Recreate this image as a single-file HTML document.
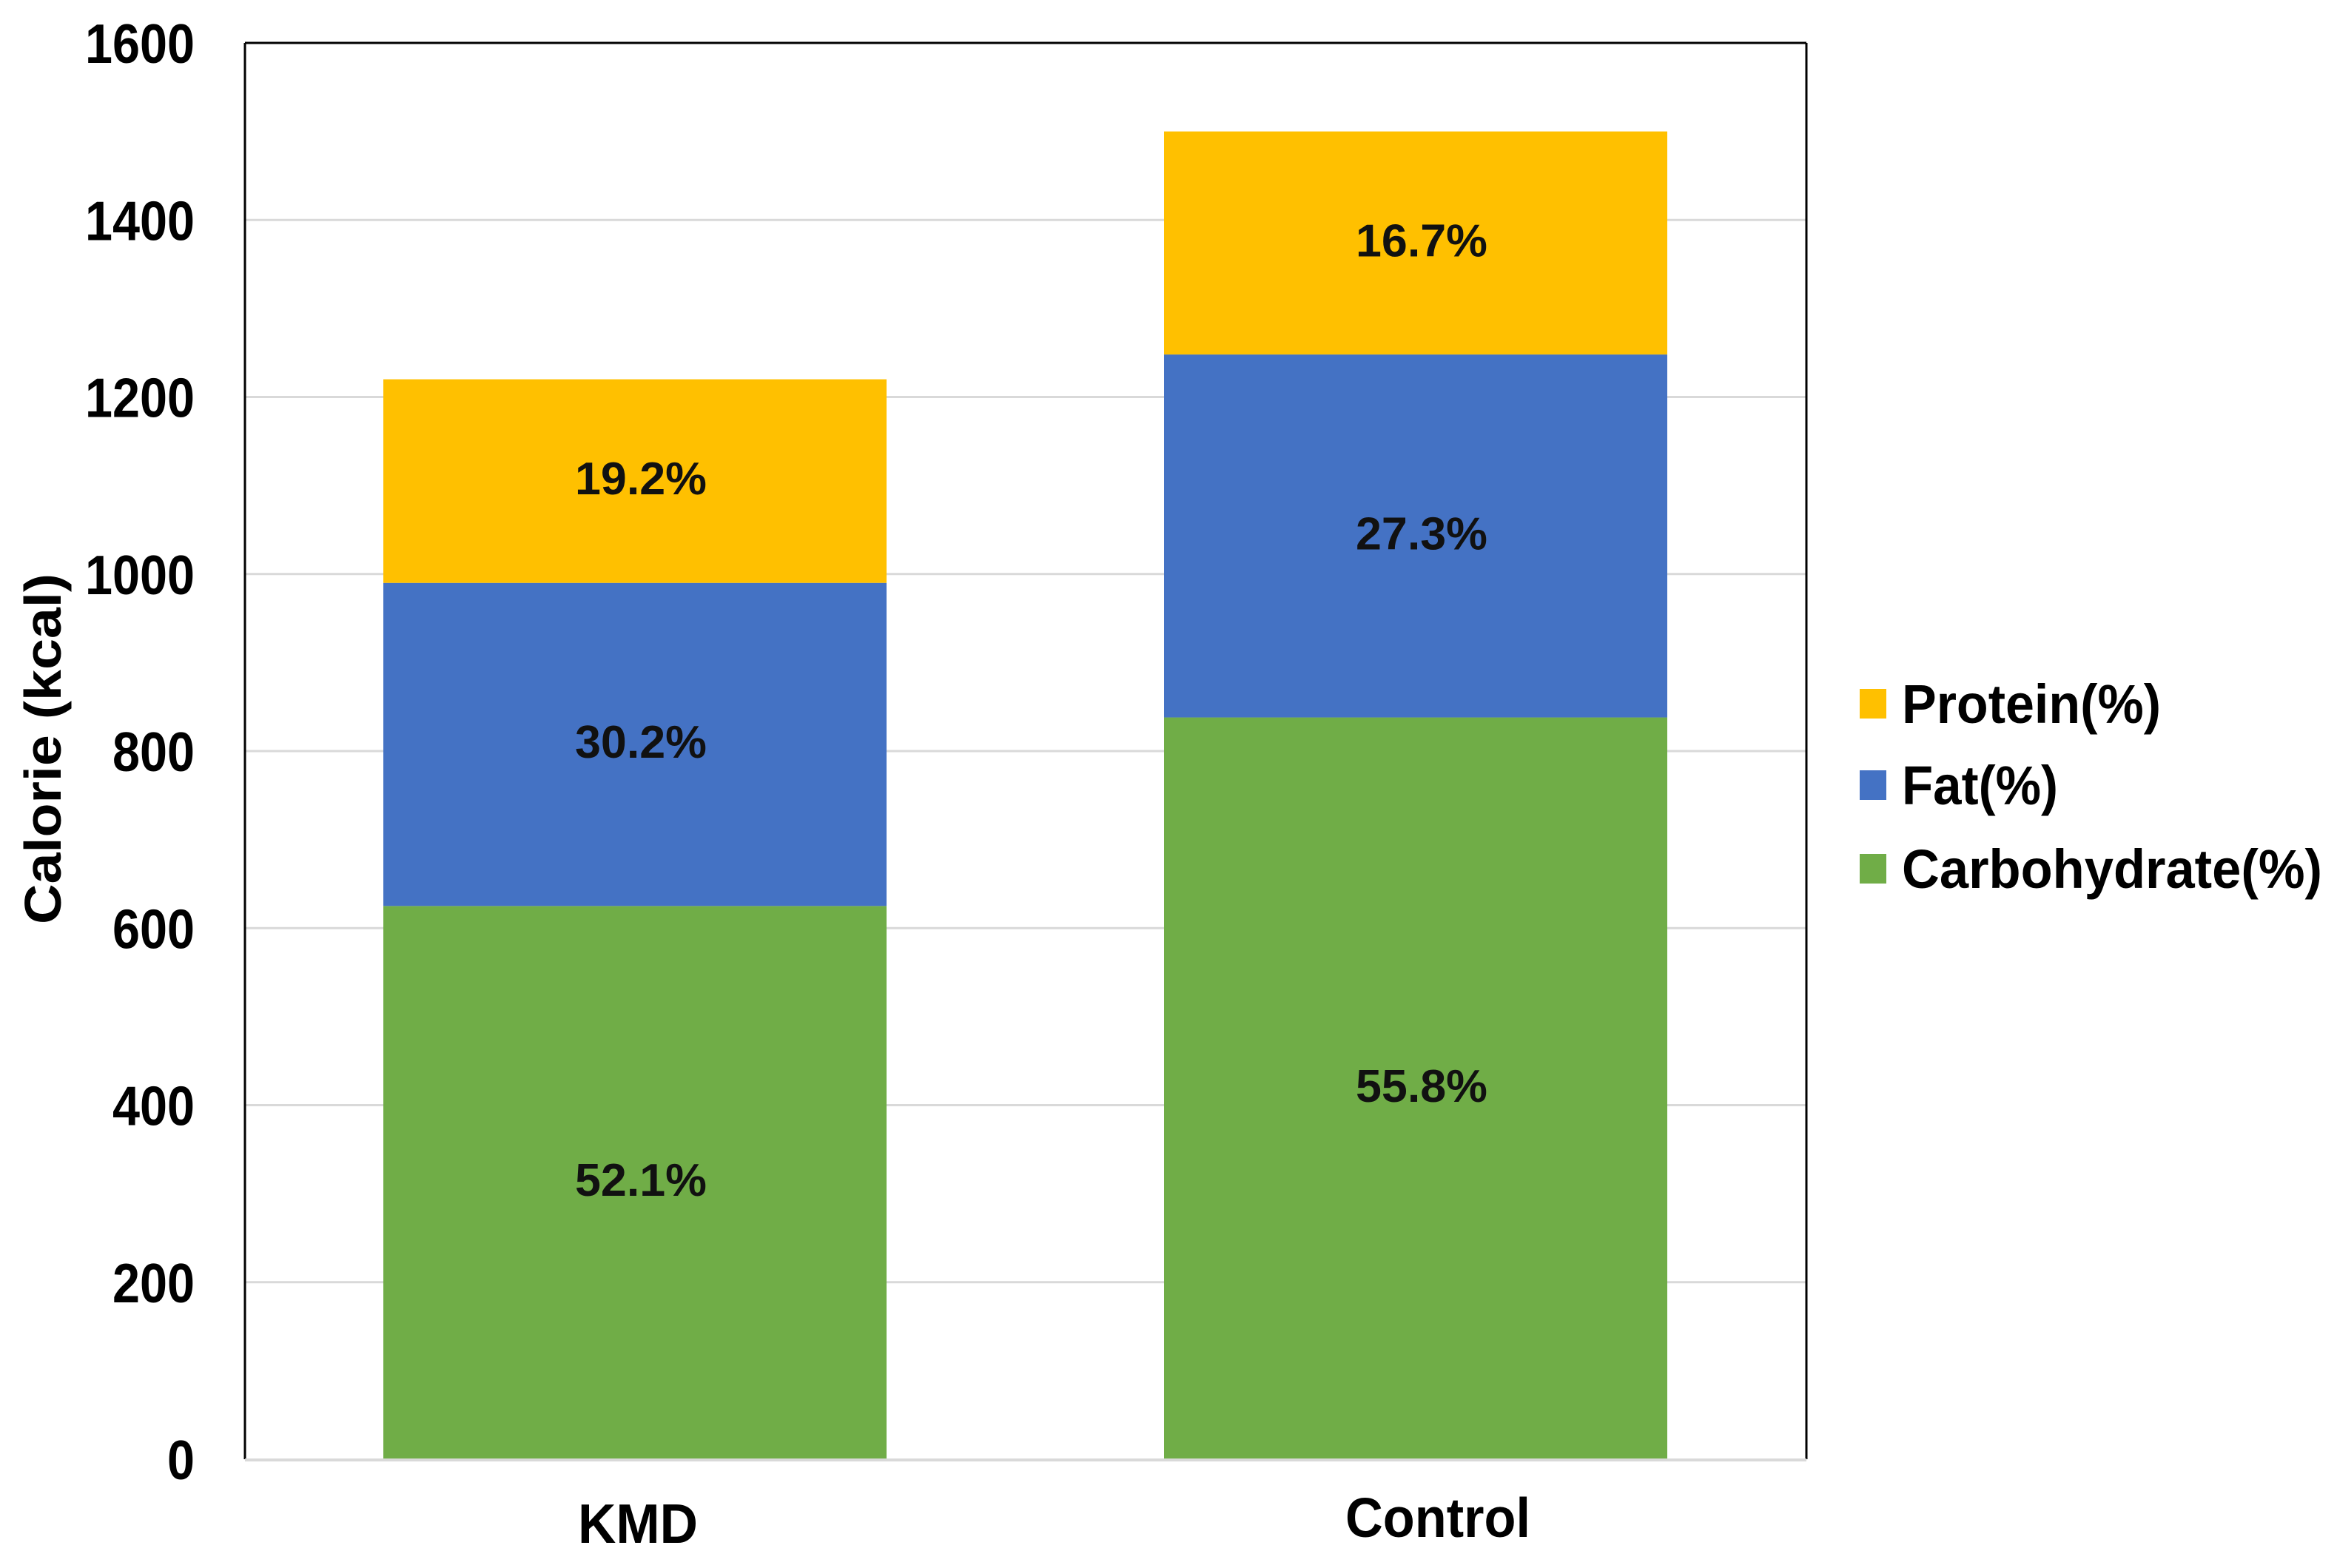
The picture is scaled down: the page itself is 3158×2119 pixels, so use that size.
<!DOCTYPE html>
<html><head><meta charset="utf-8"><style>html,body{margin:0;padding:0;background:#fff;}svg{display:block;}</style></head>
<body>
<svg id="chart" width="3158" height="2119" viewBox="0 0 3158 2119" xmlns="http://www.w3.org/2000/svg" font-family="Liberation Sans, sans-serif">
<rect x="0" y="0" width="3158" height="2119" fill="#fff"/>
<g id="grid"></g>
<g id="bars"></g>
<g id="labels"></g>
<g id="axes"></g>
<g id="legend"></g>
</svg>
<script>
const categories = ["KMD", "Control"];
const seriesNames = ["Carbohydrate(%)", "Fat(%)", "Protein(%)"];
const carbValues = [625, 838];
const fatValues = [365, 410];
const proteinValues = [230, 252];
const carbLabels = ["52.1%", "55.8%"];
const fatLabels = ["30.2%", "27.3%"];
const proteinLabels = ["19.2%", "16.7%"];
const yTicks = [0, 200, 400, 600, 800, 1000, 1200, 1400, 1600];

const NS = "http://www.w3.org/2000/svg";
const plotL = 331, plotR = 2441, plotT = 58, plotB = 1972;
const yMax = 1600;
function yScale(v){ return plotB - (v / yMax) * (plotB - plotT); }
const barCenters = [858, 1913];
const catLabelX = [862, 1943];
const barW = 680;
function xScale(i){ return barCenters[i]; }
function mk(tag, attrs, parent){ const e=document.createElementNS(NS,tag); for(const k in attrs) e.setAttribute(k, attrs[k]); parent.appendChild(e); return e; }

const grid=document.getElementById('grid'), bars=document.getElementById('bars'), labels=document.getElementById('labels'), axes=document.getElementById('axes'), legend=document.getElementById('legend');

yTicks.forEach(t=>{
  const y=yScale(t);
  if(t>0 && t<yMax){
    const l=mk('line',{x1:plotL,x2:plotR,y1:y,y2:y,stroke:'#d9d9d9','stroke-width':3},grid);
    
    
  }
  const tx=mk('text',{x:263,y:y+27,'text-anchor':'end','font-size':75,'font-weight':'bold',fill:'#000',textLength:String(t).length*37,lengthAdjust:'spacingAndGlyphs'},axes);
  tx.textContent=t;
  
  
});

const series=[carbValues,fatValues,proteinValues];
const colors=['#70ad47','#4472c4','#ffc000'];
const segLabels=[carbLabels,fatLabels,proteinLabels];
const segNames=['carbohydrate','fat','protein'];
categories.forEach((c,i)=>{
  let base=0;
  series.forEach((s,k)=>{
    const y0=yScale(base), y1=yScale(base+s[i]);
    const r=mk('rect',{x:xScale(i)-barW/2,y:y1,width:barW,height:y0-y1,fill:colors[k]},bars);
    
    
    const t=mk('text',{x:xScale(i)+8,y:(y0+y1)/2+18,'text-anchor':'middle','font-size':62,'font-weight':'bold',fill:'#111',textLength:178,lengthAdjust:'spacingAndGlyphs'},labels);
    t.textContent=segLabels[k][i];
    
    
    base+=s[i];
  });
  const xl=mk('text',{x:catLabelX[i],y:i===0?2085:2077,'text-anchor':'middle','font-size':75,'font-weight':'bold',fill:'#000',textLength:i===0?162:250,lengthAdjust:'spacingAndGlyphs'},axes);
  xl.textContent=c;
  
  
});

let f;
f=mk('line',{x1:plotL,x2:plotL,y1:plotT,y2:plotB,stroke:'#000','stroke-width':3},axes);
 
f=mk('line',{x1:plotL,x2:plotR,y1:plotT,y2:plotT,stroke:'#000','stroke-width':3},axes);
 
f=mk('line',{x1:plotR,x2:plotR,y1:plotT,y2:plotB,stroke:'#000','stroke-width':3},axes);
 
f=mk('line',{x1:plotL,x2:plotR,y1:plotB+1,y2:plotB+1,stroke:'#d9d9d9','stroke-width':4},axes);
 

const yt=mk('text',{x:0,y:0,transform:'translate(82,1012) rotate(-90)','text-anchor':'middle','font-size':70,'font-weight':'bold',fill:'#000',textLength:474,lengthAdjust:'spacingAndGlyphs'},axes);
yt.textContent='Calorie (kcal)';



const legOrder=[2,1,0];
const legY=[951,1061,1174];
const legW=[350,211,568];
legOrder.forEach((k,j)=>{
  const g=mk('g',{},legend);
  
  
  const r=mk('rect',{x:2513,y:legY[j]-20,width:36,height:40,fill:colors[k]},g);
  
  
  const t=mk('text',{x:2570,y:legY[j]+26,'font-size':74,'font-weight':'bold',fill:'#000',textLength:legW[j],lengthAdjust:'spacingAndGlyphs'},g);
  t.textContent=seriesNames[k];
  
  
});
</script>
</body></html>
